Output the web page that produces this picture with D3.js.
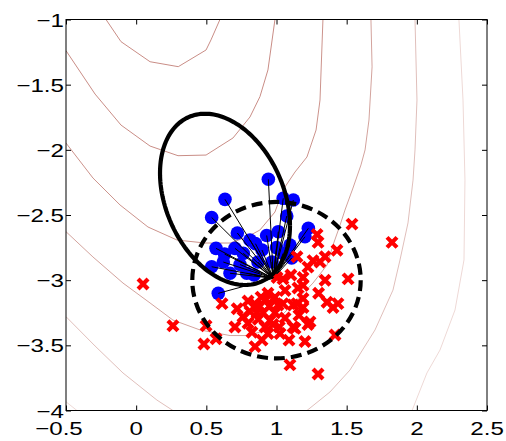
<!DOCTYPE html>
<html>
<head>
<meta charset="utf-8">
<script src="https://cdn.jsdelivr.net/npm/d3@7"></script>
<style>
  body { margin: 0; background: #fff; }
  svg { display: block; }
</style>
</head>
<body>
<svg id="chart" width="506" height="441"></svg>
<script>
// ---- axis ticks ----
const xTicks = [-0.5, 0, 0.5, 1, 1.5, 2, 2.5];
const yTicks = [-4, -3.5, -3, -2.5, -2, -1.5, -1];

// ---- likelihood contour lines (x, y pairs) ----
const contourA = [[-0.215,-1.0],[-0.108,-1.170],[0.099,-1.324],[0.300,-1.362],[0.498,-1.234],[0.533,-1.157],[0.597,-1.0]];
const contourB = [[-0.5,-1.239],[-0.293,-1.572],[-0.108,-1.810],[0.099,-1.971],[0.298,-2.045],[0.498,-2.040],[0.690,-1.909],[0.811,-1.748],[0.882,-1.592],[0.939,-1.387],[0.989,-1.0]];
const contourC = [[-0.5,-1.948],[-0.308,-2.216],[-0.115,-2.423],[0.084,-2.592],[0.291,-2.692],[0.490,-2.715],[0.669,-2.715],[0.790,-2.669],[0.882,-2.615],[0.989,-2.477],[1.046,-2.308],[1.132,-2.170],[1.217,-2.055],[1.282,-1.848],[1.310,-1.618],[1.331,-1.0]];
const contourD = [[-0.5,-2.628],[-0.308,-2.822],[-0.094,-3.022],[0.099,-3.175],[0.262,-3.306],[0.455,-3.382],[0.669,-3.425],[0.797,-3.425],[0.882,-3.398],[1.004,-3.306],[1.096,-3.206],[1.260,-3.022],[1.360,-2.884],[1.403,-2.730],[1.453,-2.577],[1.488,-2.462],[1.545,-2.293],[1.602,-2.116],[1.631,-2.001],[1.659,-1.771],[1.681,-1.364],[1.673,-1.0]];
const contourELeft = [[-0.5,-3.280],[-0.293,-3.505],[-0.094,-3.712],[0.148,-3.920],[0.262,-4.0]];
const contourERight = [[1.987,-1.0],[2.001,-1.618],[1.987,-2.001],[1.973,-2.232],[1.937,-2.561],[1.880,-2.845],[1.830,-3.076],[1.702,-3.382],[1.524,-3.689],[1.381,-3.858],[1.217,-4.0]];
const contourFLeft = [[-0.5,-3.933],[-0.422,-4.0]];
const contourFRight = [[2.300,-1.0],[2.329,-1.618],[2.343,-2.232],[2.336,-2.845],[2.272,-3.229],[2.165,-3.536],[2.072,-3.712],[1.966,-4.0]];
const contourLines = [contourA, contourB, contourC, contourD, contourELeft, contourERight, contourFLeft, contourFRight];
const contourColors = ["#c98d86", "#c98d86", "#cc938c", "#d3a39d", "#e0bfbb", "#e0bfbb", "#eed9d6", "#eed9d6"];

// ---- blue samples and the point they connect to ----
const blueX = [0.942,0.633,0.538,1.048,1.120,1.073,1.227,1.203,0.721,0.569,0.811,0.930,1.013,1.096,1.048,0.621,0.538,0.704,0.763,0.788,0.669,0.585,1.108,0.868,0.897,0.968,0.850,0.740,1.000,0.630,0.840];
const blueY = [-2.226,-2.380,-2.519,-2.372,-2.385,-2.508,-2.602,-2.667,-2.638,-2.756,-2.692,-2.657,-2.628,-2.730,-2.794,-2.861,-2.897,-2.756,-2.794,-2.947,-2.947,-3.101,-2.830,-2.861,-2.769,-2.861,-2.720,-2.880,-2.750,-2.800,-2.960];
const fanPoint = [0.977, -2.986];

// ---- red samples ----
const redX = [0.049,0.262,0.498,0.483,0.569,0.612,0.704,0.797,0.797,0.825,0.847,0.890,0.939,0.904,0.954,0.939,0.861,0.918,1.004,1.103,1.189,1.153,1.346,1.510,0.989,1.046,1.146,1.189,1.360,1.438,1.403,1.239,1.132,1.025,1.417,1.203,1.096,1.296,0.989,0.975,1.289,1.538,1.431,1.346,1.310,1.146,1.224,1.823,1.296,1.260,1.046,1.189,0.925,1.011,1.118,1.189,1.118,1.224,0.761,0.897,1.061,0.854,0.811,1.061,1.089,0.880,0.950,1.020,0.870,1.160,1.300,0.720];
const redY = [-3.03,-3.35,-3.35,-3.49,-3.45,-3.18,-3.36,-3.16,-3.33,-3.40,-3.51,-3.13,-3.10,-3.25,-3.31,-3.41,-3.25,-3.36,-2.98,-2.96,-2.98,-3.06,-3.00,-2.99,-3.13,-3.18,-3.18,-3.21,-3.17,-3.18,-3.21,-3.32,-3.37,-3.41,-3.42,-3.47,-3.65,-3.72,-3.25,-3.34,-2.65,-2.57,-2.77,-2.82,-2.86,-2.82,-2.90,-2.71,-2.71,-2.85,-2.99,-3.04,-3.15,-3.19,-3.19,-3.14,-3.36,-3.34,-3.28,-3.46,-3.08,-3.19,-3.24,-3.29,-3.46,-3.20,-3.20,-3.36,-3.30,-3.27,-3.10,-3.22];

// ---- covariance ellipse (solid) and reference circle (dashed) ----
const ellipseCenter = [0.633, -2.38];
const ellipseCov = [[0.2144, -0.0933], [-0.0933, 0.4316]];
const circleCenter = [1.0, -3.0];
const circleRadius = 0.6;

const svg = d3.select("#chart");
const x = d3.scaleLinear().domain([-0.5, 2.5]).range([66, 487]);
const y = d3.scaleLinear().domain([-4, -1]).range([410.5, 19.5]);

svg.append("defs").append("clipPath").attr("id", "plotClip")
  .append("rect")
  .attr("x", x(-0.5)).attr("y", y(-1))
  .attr("width", x(2.5) - x(-0.5)).attr("height", y(-4) - y(-1));

const plot = svg.append("g").attr("clip-path", "url(#plotClip)");
const line = d3.line().x(d => x(d[0])).y(d => y(d[1]));

// contours
plot.append("g").selectAll("path")
  .data(contourLines)
  .join("path")
  .attr("d", line)
  .attr("fill", "none")
  .attr("stroke", (d, i) => contourColors[i])
  .attr("stroke-width", 1);

// blue samples
const blue = blueX.map((v, i) => [v, blueY[i]]);
plot.append("g").selectAll("circle")
  .data(blue)
  .join("circle")
  .attr("cx", d => x(d[0]))
  .attr("cy", d => y(d[1]))
  .attr("r", 6.8)
  .attr("fill", "#0000ff");

// fan of segments to the common point
plot.append("g").selectAll("line")
  .data(blue)
  .join("line")
  .attr("x1", d => x(d[0])).attr("y1", d => y(d[1]))
  .attr("x2", x(fanPoint[0])).attr("y2", y(fanPoint[1]))
  .attr("stroke", "#000")
  .attr("stroke-width", 1);

// red samples as crosses
const red = redX.map((v, i) => [v, redY[i]]);
const s = 5.0;
plot.append("g").selectAll("path")
  .data(red)
  .join("path")
  .attr("transform", d => `translate(${x(d[0])},${y(d[1])})`)
  .attr("d", `M${-s},${-s}L${s},${s}M${-s},${s}L${s},${-s}`)
  .attr("stroke", "#ff0000")
  .attr("stroke-width", 4.2)
  .attr("fill", "none");

// solid covariance ellipse
const l11 = Math.sqrt(ellipseCov[0][0]);
const l21 = ellipseCov[1][0] / l11;
const l22 = Math.sqrt(ellipseCov[1][1] - l21 * l21);
const ellipsePts = d3.range(0, 2 * Math.PI + 0.001, Math.PI / 90).map(t => {
  const u = Math.cos(t), v = Math.sin(t);
  return [ellipseCenter[0] + l11 * u, ellipseCenter[1] + l21 * u + l22 * v];
});
plot.append("path")
  .attr("d", line(ellipsePts))
  .attr("fill", "none")
  .attr("stroke", "#000")
  .attr("stroke-width", 4.2);

// dashed circle
plot.append("ellipse")
  .attr("cx", x(circleCenter[0]))
  .attr("cy", y(circleCenter[1]))
  .attr("rx", x(circleCenter[0] + circleRadius) - x(circleCenter[0]))
  .attr("ry", y(circleCenter[1] - circleRadius) - y(circleCenter[1]))
  .attr("fill", "none")
  .attr("stroke", "#000")
  .attr("stroke-width", 4.2)
  .attr("stroke-dasharray", "11,6");

// axes: inward ticks on all four sides
const tickLen = 5;
svg.append("g").attr("transform", `translate(0,${y(-4)})`)
  .call(d3.axisBottom(x).tickValues(xTicks).tickSizeInner(-tickLen).tickSizeOuter(0).tickFormat(""))
  .call(g => g.select(".domain").remove());
svg.append("g").attr("transform", `translate(0,${y(-1)})`)
  .call(d3.axisTop(x).tickValues(xTicks).tickSizeInner(-tickLen).tickSizeOuter(0).tickFormat(""))
  .call(g => g.select(".domain").remove());
svg.append("g").attr("transform", `translate(${x(-0.5)},0)`)
  .call(d3.axisLeft(y).tickValues(yTicks).tickSizeInner(-tickLen).tickSizeOuter(0).tickFormat(""))
  .call(g => g.select(".domain").remove());
svg.append("g").attr("transform", `translate(${x(2.5)},0)`)
  .call(d3.axisRight(y).tickValues(yTicks).tickSizeInner(-tickLen).tickSizeOuter(0).tickFormat(""))
  .call(g => g.select(".domain").remove());
svg.selectAll(".tick line").attr("stroke", "#000");

svg.append("rect")
  .attr("x", x(-0.5)).attr("y", y(-1))
  .attr("width", x(2.5) - x(-0.5)).attr("height", y(-4) - y(-1))
  .attr("fill", "none").attr("stroke", "#000").attr("stroke-width", 1);

// tick labels
const fmt = d3.format("");
const font = "'Liberation Sans', Arial, Helvetica, sans-serif";
const fontSize = 19;
const stretch = 1.27;
const labels = svg.append("g")
  .attr("font-family", font)
  .attr("font-size", fontSize)
  .attr("fill", "#000");

// measuring helper
const probe = labels.append("text").attr("visibility", "hidden");
function textWidth(str) { probe.text(str); return probe.node().getComputedTextLength(); }

xTicks.forEach(v => {
  const full = fmt(v);
  const digits = full.replace("\u2212", "");
  const dw = textWidth(digits);
  labels.append("text")
    .attr("transform", `translate(${x(v)},434.5) scale(${stretch},1)`)
    .attr("x", dw / 2)
    .attr("text-anchor", "end")
    .text(full);
});

yTicks.forEach(v => {
  labels.append("text")
    .attr("transform", `translate(64,${y(v) + 7.0}) scale(${stretch},1)`)
    .attr("text-anchor", "end")
    .text(fmt(v));
});
probe.remove();
</script>
</body>
</html>
